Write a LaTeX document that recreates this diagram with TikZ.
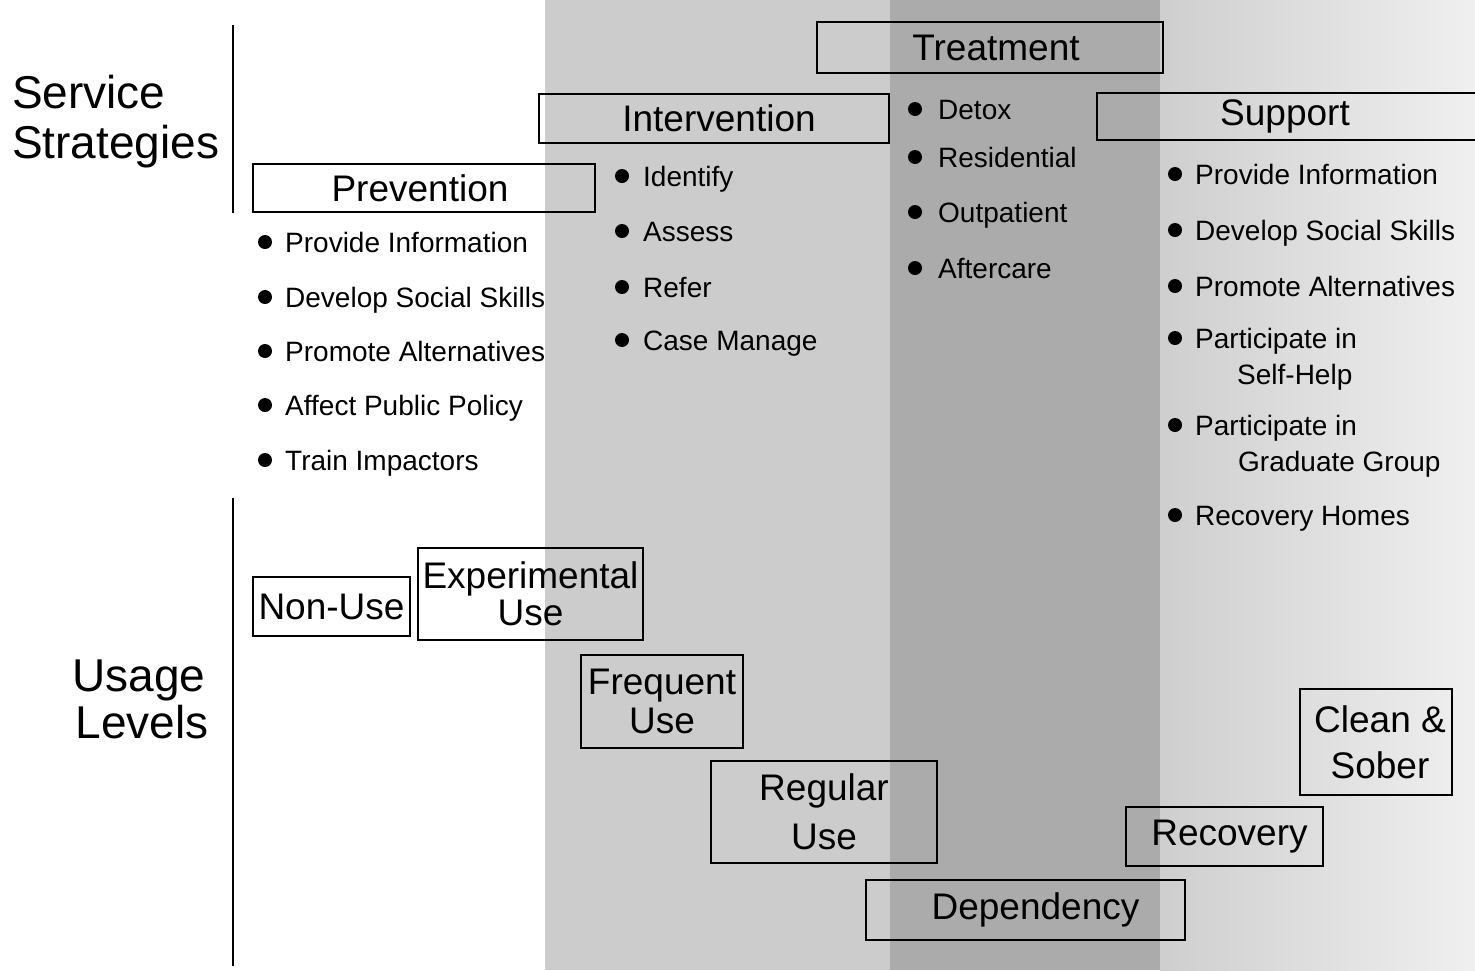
\documentclass[tikz,border=0pt]{standalone}
\usepackage{fontspec}
\setmainfont{Liberation Sans}
\begin{document}
\begin{tikzpicture}[x=1pt,y=-1pt,
  box/.style={draw=black, line width=2.6pt, inner sep=0pt, align=center, font=\fontsize{37}{40}\selectfont},
  item/.style={anchor=west, inner sep=0pt, text height=20pt, text depth=0pt, font=\fontsize{28}{30}\selectfont},
  big/.style={inner sep=0pt, text height=33pt, text depth=0pt, font=\fontsize{46}{50}\selectfont},
  axisline/.style={line width=2.4pt},
  bul/.style={fill=black}]
\useasboundingbox (0,0) rectangle (1475,970);
\clip (0,0) rectangle (1475,970);
% background zones
\fill[black!20] (545,0) rectangle (890,970);
\fill[black!33] (890,0) rectangle (1160,970);
\shade[left color=black!19, right color=black!6] (1160,0) rectangle (1475,970);

% left labels
\node[big, anchor=west] (ss1) at (12,92) {Service};
\node[big, anchor=west] (ss2) at (12,142) {Strategies};
\node[big] (ul1) at (139,675) {Usage};
\node[big] (ul2) at (142,722) {Levels};

\coordinate (la) at (233,25);
\coordinate (lb) at (233,213);
\coordinate (lc) at (233,498);
\coordinate (ld) at (233,966);
\draw[axisline] (la) -- (lb);
\draw[axisline] (lc) -- (ld);

% strategy boxes
\node[box, minimum width=346pt, minimum height=51pt] (treat) at (990,47.5) {\hspace*{12pt}Treatment};
\node[box, minimum width=350pt, minimum height=49pt] (interv) at (714,118.5) {\hspace*{10pt}Intervention};
\node[box, minimum width=388pt, minimum height=47pt] (supp) at (1291,116.5) {Support\hspace*{12pt}};
\node[box, minimum width=342pt, minimum height=48pt] (prev) at (424,188) {Prevention\hspace*{8pt}};

% usage boxes
\node[box, minimum width=157pt, minimum height=59pt] (nonuse) at (331.5,606.5) {Non-Use};
\node[box, minimum width=225pt, minimum height=92pt, font=\fontsize{37}{37}\selectfont] (exper) at (530.5,594) {Experimental\\Use};
\node[box, minimum width=162pt, minimum height=93pt, font=\fontsize{37}{39}\selectfont] (freq) at (662,701.5) {Frequent\\Use};
\node[box, minimum width=226pt, minimum height=102pt, font=\fontsize{37}{49}\selectfont] (reg) at (824,812) {Regular\\Use};
\node[box, minimum width=319pt, minimum height=60pt] (dep) at (1025.5,910) {\hspace*{20pt}Dependency};
\node[box, minimum width=197pt, minimum height=59pt] (rec) at (1224.5,836.5) {\hspace*{10pt}Recovery};
\node[box, minimum width=152pt, minimum height=106pt, font=\fontsize{37}{46}\selectfont] (clean) at (1376,742) {\hspace*{8pt}Clean \&\\\hspace*{8pt}Sober};

% prevention list
\node[item] (p1) at (285,242) {Provide Information};
\node[item] (p2) at (285,297) {Develop Social Skills};
\node[item] (p3) at (285,351) {Promote Alternatives};
\node[item] (p4) at (285,405) {Affect Public Policy};
\node[item] (p5) at (285,460) {Train Impactors};
\foreach \n in {p1,p2,p3,p4,p5} \fill[bul] (\n.west) ++(-20,0) circle (7pt);

% intervention list
\node[item] (i1) at (643,176) {Identify};
\node[item] (i2) at (643,231) {Assess};
\node[item] (i3) at (643,287) {Refer};
\node[item] (i4) at (643,340) {Case Manage};
\foreach \n in {i1,i2,i3,i4} \fill[bul] (\n.west) ++(-21,0) circle (7pt);

% treatment list
\node[item] (t1) at (938,109) {Detox};
\node[item] (t2) at (938,157) {Residential};
\node[item] (t3) at (938,212) {Outpatient};
\node[item] (t4) at (938,268) {Aftercare};
\foreach \n in {t1,t2,t3,t4} \fill[bul] (\n.west) ++(-23,0) circle (7pt);

% support list
\node[item] (s1) at (1195,174) {Provide Information};
\node[item] (s2) at (1195,230) {Develop Social Skills};
\node[item] (s3) at (1195,286) {Promote Alternatives};
\node[item] (s4) at (1195,338) {Participate in};
\node[item] (s4b) at (1237,374) {Self-Help};
\node[item] (s5) at (1195,425) {Participate in};
\node[item] (s5b) at (1238,461) {Graduate Group};
\node[item] (s6) at (1195,515) {Recovery Homes};
\foreach \n in {s1,s2,s3,s4,s5,s6} \fill[bul] (\n.west) ++(-20,0) circle (7pt);
\end{tikzpicture}
\end{document}
